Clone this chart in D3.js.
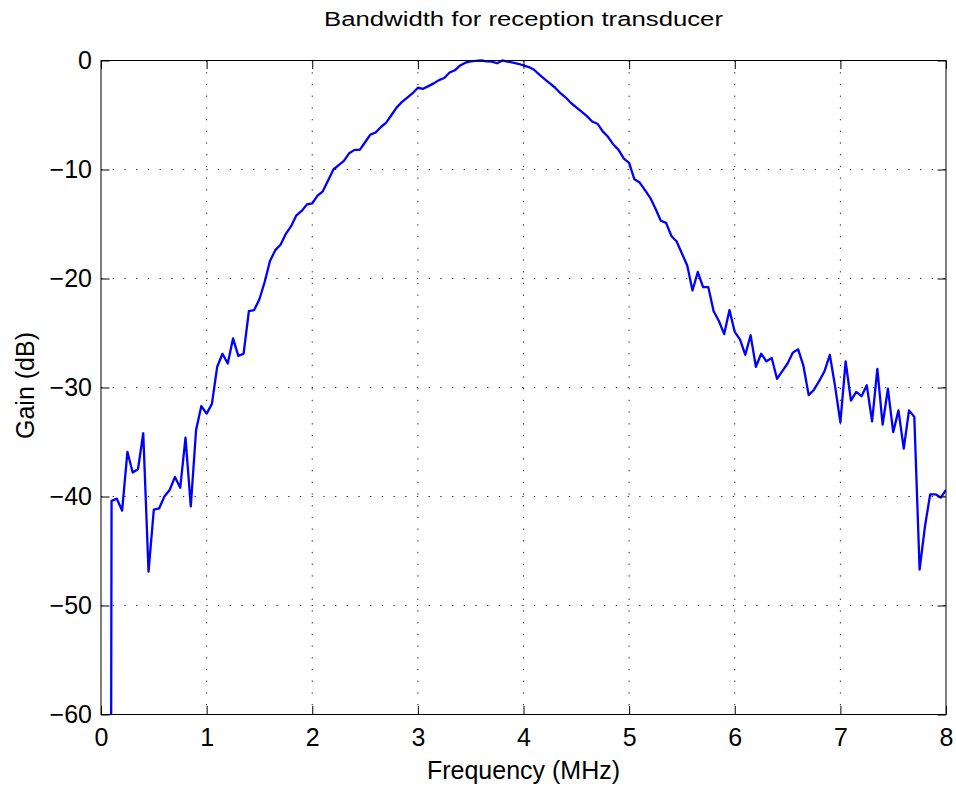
<!DOCTYPE html>
<html>
<head>
<meta charset="utf-8">
<script src="https://cdn.jsdelivr.net/npm/d3@7/dist/d3.min.js"></script>
<style>
  body { margin: 0; background: #fff; }
  svg { display: block; }
  text { font-family: "Liberation Sans", Arial, Helvetica, sans-serif; fill: #000; }
</style>
</head>
<body>
<svg id="chart" width="956" height="787"></svg>
<script>
const titleText = "Bandwidth for reception transducer";
const xLabelText = "Frequency (MHz)";
const yLabelText = "Gain (dB)";
const xTicks = [0, 1, 2, 3, 4, 5, 6, 7, 8];
const yTicks = [0, -10, -20, -30, -40, -50, -60];

const freqMHz = [
  0.05, 0.10, 0.15, 0.20, 0.25, 0.30, 0.35, 0.40, 0.45, 0.50,
  0.55, 0.60, 0.65, 0.70, 0.75, 0.80, 0.85, 0.90, 0.95, 1.00,
  1.05, 1.10, 1.15, 1.20, 1.25, 1.30, 1.35, 1.40, 1.45, 1.50,
  1.55, 1.60, 1.65, 1.70, 1.75, 1.80, 1.85, 1.90, 1.95, 2.00,
  2.05, 2.10, 2.15, 2.20, 2.25, 2.30, 2.35, 2.40, 2.45, 2.50,
  2.55, 2.60, 2.65, 2.70, 2.75, 2.80, 2.85, 2.90, 2.95, 3.00,
  3.05, 3.10, 3.15, 3.20, 3.25, 3.30, 3.35, 3.40, 3.45, 3.50,
  3.55, 3.60, 3.65, 3.70, 3.75, 3.80, 3.85, 3.90, 3.95, 4.00,
  4.05, 4.10, 4.15, 4.20, 4.25, 4.30, 4.35, 4.40, 4.45, 4.50,
  4.55, 4.60, 4.65, 4.70, 4.75, 4.80, 4.85, 4.90, 4.95, 5.00,
  5.05, 5.10, 5.15, 5.20, 5.25, 5.30, 5.35, 5.40, 5.45, 5.50,
  5.55, 5.60, 5.65, 5.70, 5.75, 5.80, 5.85, 5.90, 5.95, 6.00,
  6.05, 6.10, 6.15, 6.20, 6.25, 6.30, 6.35, 6.40, 6.45, 6.50,
  6.55, 6.60, 6.65, 6.70, 6.75, 6.80, 6.85, 6.90, 6.95, 7.00,
  7.05, 7.10, 7.15, 7.20, 7.25, 7.30, 7.35, 7.40, 7.45, 7.50,
  7.55, 7.60, 7.65, 7.70, 7.75, 7.80, 7.85, 7.90, 7.95, 8.00
];

const gainDb = [
  -300, -40.4, -40.2, -41.3, -35.9, -37.8, -37.5, -34.2, -46.9, -41.2,
  -41.1, -40.0, -39.4, -38.2, -39.2, -34.6, -40.9, -33.9, -31.7, -32.4,
  -31.5, -28.1, -26.9, -27.8, -25.5, -27.1, -26.9, -23.0, -22.9, -21.9,
  -20.3, -18.4, -17.4, -16.9, -15.9, -15.2, -14.2, -13.8, -13.2, -13.1,
  -12.4, -12.0, -11.0, -10.0, -9.6, -9.2, -8.5, -8.2, -8.2, -7.5,
  -6.8, -6.6, -6.1, -5.7, -5.0, -4.3, -3.8, -3.4, -3.0, -2.5,
  -2.6, -2.35, -2.1, -1.8, -1.6, -1.1, -0.9, -0.45, -0.2, -0.08,
  -0.03, 0.0, -0.08, -0.1, -0.25, 0.0, -0.1, -0.2, -0.3, -0.45,
  -0.6, -0.85, -1.3, -1.7, -2.1, -2.5, -3.0, -3.4, -3.9, -4.3,
  -4.7, -5.1, -5.6, -5.8, -6.5, -7.0, -7.7, -8.2, -9.0, -9.4,
  -10.9, -11.2, -11.9, -12.6, -13.6, -14.7, -14.9, -16.1, -16.6, -17.7,
  -18.8, -21.1, -19.4, -20.8, -20.8, -23.0, -23.9, -25.1, -22.9, -24.9,
  -25.6, -27.0, -25.2, -28.1, -26.9, -27.6, -27.3, -29.2, -28.5, -27.8,
  -26.8, -26.5, -28.0, -30.7, -30.2, -29.4, -28.5, -27.0, -29.9, -33.2,
  -27.6, -31.2, -30.4, -30.8, -29.8, -33.1, -28.3, -33.4, -30.1, -34.1,
  -32.1, -35.6, -32.1, -32.7, -46.7, -42.8, -39.8, -39.8, -40.1, -39.4
];

const data = freqMHz.map((f, i) => ({ f: f, g: gainDb[i] }));

const svg = d3.select("#chart");
const mLeft = 101, mRight = 946, mTop = 60.5, mBottom = 714.5;
const W = mRight - mLeft, H = mBottom - mTop;

const x = d3.scaleLinear().domain([0, 8]).range([mLeft, mRight]);
const y = d3.scaleLinear().domain([-60, 0]).range([mBottom, mTop]);

const fmt = d => (d < 0 ? "\u2212" + Math.abs(d) : String(d));
const dash = "1.3,10.4";
const tickFont = 25;

// grid
const grid = svg.append("g");
grid.selectAll("line.gx").data(xTicks.filter(d => d > 0 && d < 8)).join("line")
  .attr("x1", d => x(d)).attr("x2", d => x(d))
  .attr("y1", mTop).attr("y2", mBottom)
  .attr("stroke", "#222").attr("stroke-width", 1)
  .attr("stroke-dasharray", dash);
grid.selectAll("line.gy").data(yTicks.filter(d => d <= 0 && d > -60)).join("line")
  .attr("x1", mLeft).attr("x2", mRight)
  .attr("y1", d => y(d)).attr("y2", d => y(d))
  .attr("stroke", "#222").attr("stroke-width", 1)
  .attr("stroke-dasharray", dash);

// clip
svg.append("clipPath").attr("id", "clip").append("rect")
  .attr("x", mLeft).attr("y", mTop - 2).attr("width", W).attr("height", H + 2);

// line
const line = d3.line().x(d => x(d.f)).y(d => y(d.g));
svg.append("path").datum(data)
  .attr("clip-path", "url(#clip)")
  .attr("d", line)
  .attr("fill", "none")
  .attr("stroke", "#0000ff")
  .attr("stroke-width", 2.3)
  .attr("stroke-linejoin", "round");

// axes
const tickLen = 8.5;
const xAxisB = d3.axisBottom(x).tickValues(xTicks).tickSize(-tickLen).tickPadding(14).tickFormat(fmt);
const xAxisT = d3.axisTop(x).tickValues(xTicks).tickSize(-tickLen).tickFormat("");
const yAxisL = d3.axisLeft(y).tickValues(yTicks).tickSize(-tickLen).tickPadding(9).tickFormat(fmt);
const yAxisR = d3.axisRight(y).tickValues(yTicks).tickSize(-tickLen).tickFormat("");

function style(g) {
  g.selectAll(".domain").remove();
  g.selectAll(".tick line").attr("stroke", "#000").attr("stroke-width", 1);
  g.selectAll(".tick text").attr("font-size", tickFont).attr("font-family", "Liberation Sans, Arial, sans-serif").attr("fill", "#000");
}
svg.append("g").attr("transform", `translate(0,${mBottom})`).call(xAxisB).call(style);
svg.append("g").attr("transform", `translate(0,${mTop})`).call(xAxisT).call(style);
svg.append("g").attr("transform", `translate(${mLeft},0)`).call(yAxisL).call(style);
svg.append("g").attr("transform", `translate(${mRight},0)`).call(yAxisR).call(style);

svg.append("rect").attr("x", mLeft).attr("y", mTop).attr("width", W).attr("height", H)
  .attr("fill", "none").attr("stroke", "#000").attr("stroke-width", 1);

// labels
svg.append("text").attr("x", (mLeft + mRight) / 2).attr("y", 26)
  .attr("text-anchor", "middle").attr("font-size", 20)
  .attr("textLength", 399).attr("lengthAdjust", "spacingAndGlyphs").text(titleText);
svg.append("text").attr("x", (mLeft + mRight) / 2).attr("y", 779)
  .attr("text-anchor", "middle").attr("font-size", tickFont).text(xLabelText);
svg.append("text").attr("transform", `translate(34,${(mTop + mBottom) / 2 - 2}) rotate(-90)`)
  .attr("text-anchor", "middle").attr("font-size", tickFont).text(yLabelText);
</script>
</body>
</html>
